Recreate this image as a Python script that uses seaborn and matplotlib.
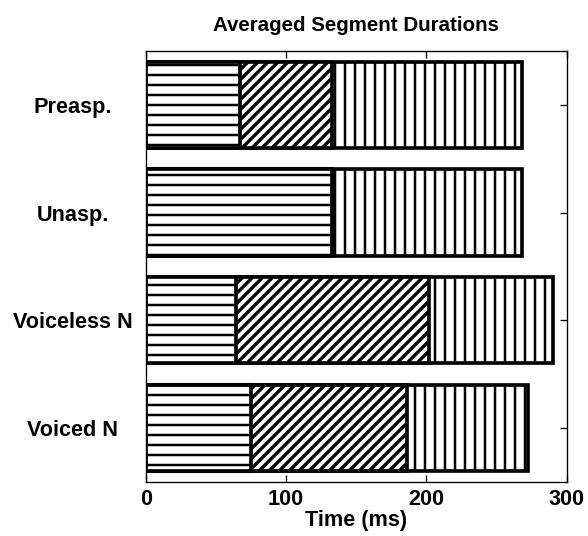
import numpy as np
import pandas as pd
import seaborn as sns
import matplotlib.pyplot as plt

# segment durations (ms)
categories = ["Preasp.", "Unasp.", "Voiceless N", "Voiced N"]
seg1 = [67, 133, 64, 75]
seg2 = [66, 0, 138, 111]
seg3 = [135, 135, 88, 86]

sns.set_style("ticks")
plt.rcParams['font.family'] = ['Liberation Sans', 'DejaVu Sans']
plt.rcParams['font.weight'] = 'bold'
plt.rcParams['hatch.linewidth'] = 1.5
for k in ['text.color', 'axes.labelcolor', 'xtick.color', 'ytick.color', 'axes.edgecolor']:
    plt.rcParams[k] = 'black'

df = pd.DataFrame({"cond": categories, "s1": seg1, "s2": seg2, "s3": seg3})
df["c2"] = df["s1"] + df["s2"]
df["c3"] = df["c2"] + df["s3"]

fig, ax = plt.subplots(figsize=(4.9, 536 / 120), dpi=120)
fig.subplots_adjust(left=0.248, right=0.964, top=0.905, bottom=0.101)

# draw cumulative totals back to front so they look stacked
for col, hatch in [("c3", "||"), ("c2", "////"), ("s1", "--")]:
    sns.barplot(data=df, x=col, y="cond", orient="h", color="white",
                saturation=1, edgecolor="black", linewidth=2.2,
                hatch=hatch, ax=ax)

# thicker diagonal hatch, if this matplotlib supports per-patch setting
for p in ax.containers[1]:
    if hasattr(p, "set_hatch_linewidth"):
        p.set_hatch_linewidth(2.0)

ax.set_xlim(0, 300)
ax.set_ylim(3.5, -0.5)
ax.set_xticks([0, 100, 200, 300])
ax.set_xlabel("Time (ms)", fontsize=13, fontweight="bold", labelpad=0)
ax.set_ylabel("")
ax.set_title("Averaged Segment Durations", fontsize=12.3, fontweight="bold", pad=12)

ax.tick_params(axis="x", direction="in", top=True, length=4, labelsize=13, pad=4)
ax.tick_params(axis="y", direction="in", right=True, length=4, labelsize=13, pad=44)
for lbl in ax.get_yticklabels():
    lbl.set_ha("center")
for sp in ax.spines.values():
    sp.set_visible(True)
    sp.set_linewidth(0.8)
    sp.set_color("black")

fig.savefig("out.png", dpi=120)
